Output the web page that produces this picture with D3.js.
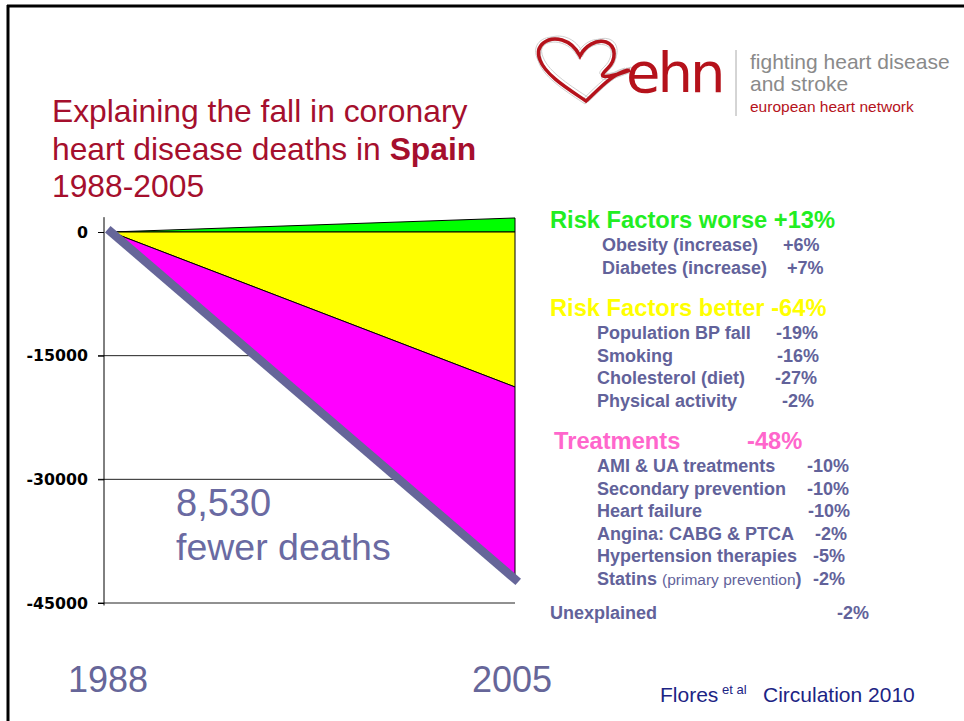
<!DOCTYPE html>
<html>
<head>
<meta charset="utf-8">
<script src="https://cdn.jsdelivr.net/npm/d3@7"></script>
<style>
 body { margin:0; background:#fff; }
 svg { display:block; font-family:"Liberation Sans", Arial, sans-serif; }
</style>
</head>
<body>
<script>

// chart data
var years         = [1988, 2005]
var riskWorse     = [0, 1700]
var riskBetter    = [0, -18800]
var treatmentsLow = [0, -42500]
var observed      = [0, -42100]
var yTicks        = [0, -15000, -30000, -45000]

// right hand panel
var headers = [
 {text: 'Risk Factors worse +13%', color: '#22ee22', x: 550, y: 228},
 {text: 'Risk Factors better -64%', color: '#ffff00', x: 550, y: 316},
 {text: 'Treatments', color: '#ff66cc', x: 554, y: 449},
 {text: '-48%', color: '#ff66cc', x: 747, y: 449}
]
var worseLabels  = ['Obesity (increase)', 'Diabetes (increase)']
var worseValues  = ['+6%', '+7%']
var betterLabels = ['Population BP fall', 'Smoking', 'Cholesterol (diet)', 'Physical activity']
var betterValues = ['-19%', '-16%', '-27%', '-2%']
var treatLabels  = ['AMI & UA treatments', 'Secondary prevention', 'Heart failure',
                    'Angina: CABG & PTCA', 'Hypertension therapies', 'Statins ']
var treatValues  = ['-10%', '-10%', '-10%', '-2%', '-5%', '-2%']

var W = 964, H = 721
var ink = '#62629a'
var fs  = 18

var svg = d3.select('body').append('svg').attr('width', W).attr('height', H)

// frame
svg.append('line').attr('x1', 8).attr('x2', 8).attr('y1', 5).attr('y2', H)
   .attr('stroke', '#000').attr('stroke-width', 3)
svg.append('line').attr('x1', 7).attr('x2', W).attr('y1', 6).attr('y2', 6)
   .attr('stroke', '#000').attr('stroke-width', 3)

// title
var title = svg.append('text').attr('x', 52).attr('y', 122)
   .attr('font-size', 31.8).attr('fill', '#a50f2d')
title.append('tspan').text('Explaining the fall in coronary')
title.append('tspan').attr('x', 52).attr('dy', 38).text('heart disease deaths in ')
title.append('tspan').attr('font-weight', 'bold').text('Spain')
title.append('tspan').attr('x', 52).attr('dy', 37).text('1988-2005')

// logo
var logo = svg.append('g')
var heart = 'M628,70 C612,74 600,88 586,101 C570,90 546,76 540,60 C534,45 548,36 562,40 ' +
            'C572,43 577,50 580,56 C585,46 596,39 606,42 C617,46 616,60 608,68 C603,73 598,78 610,76 C618,75 624,72 630,70'
;[[-3, -2], [2, 1], [-1, 3], [3, -3]].forEach(function(o) {
  logo.append('path').attr('d', heart).attr('transform', 'translate(' + o[0] + ',' + o[1] + ')')
      .attr('fill', 'none').attr('stroke', '#cfcfcf').attr('stroke-width', 1)
})
logo.append('path').attr('d', heart).attr('fill', 'none').attr('stroke', '#b5121b').attr('stroke-width', 3.5)
logo.append('text').attr('x', 626).attr('y', 92).attr('font-size', 56).attr('fill', '#b5121b')
    .attr('font-family', 'DejaVu Sans').attr('letter-spacing', -3).text('ehn')
logo.append('line').attr('x1', 736).attr('x2', 736).attr('y1', 50).attr('y2', 116)
    .attr('stroke', '#aaa').attr('stroke-width', 1)
logo.append('text').attr('x', 750).attr('y', 69).attr('font-size', 21).attr('fill', '#8a8a8a').text('fighting heart disease')
logo.append('text').attr('x', 750).attr('y', 91).attr('font-size', 21).attr('fill', '#8a8a8a').text('and stroke')
logo.append('text').attr('x', 750).attr('y', 112).attr('font-size', 15.5).attr('fill', '#b5121b').text('european heart network')

// scales
var x = d3.scaleLinear().domain([1988, 2005]).range([111, 515])
var y = d3.scaleLinear().domain([0, -45000]).range([232, 603])

// gridlines
svg.append('g').selectAll('.grid').data(yTicks.slice(1)).enter().append('line').attr('class', 'grid')
  .attr('x1', 98).attr('x2', x(2005)).attr('y1', function(d) { return y(d) }).attr('y2', function(d) { return y(d) })
  .attr('stroke', '#222').attr('stroke-width', 1)

// axis
var axis = d3.axisLeft(y).tickValues(yTicks).tickSize(6).tickPadding(10).tickFormat(function(d) { return String(d) })
var ag = svg.append('g').attr('transform', 'translate(104,0)').call(axis)
ag.select('.domain').remove()
ag.selectAll('.tick line').attr('stroke', '#000')
ag.selectAll('text').style('font-size', '15.8px').style('font-weight', 'bold').style('fill', '#000')
  .style('font-family', '"DejaVu Sans", Verdana, sans-serif')
ag.append('line').attr('x1', 0).attr('x2', 0).attr('y1', y(1800)).attr('y2', y(-45300))
  .attr('stroke', '#000').attr('stroke-width', 1)

// areas
function band(lo, hi) {
  return d3.area().x(function(d, i) { return x(years[i]) })
    .y0(function(d, i) { return y(lo[i]) }).y1(function(d, i) { return y(hi[i]) })(years)
}
svg.append('path').attr('d', band(riskWorse.map(function() { return 0 }), riskWorse))
   .attr('fill', '#00ff00').attr('stroke', '#000').attr('stroke-width', 1)
svg.append('path').attr('d', band(riskBetter, riskBetter.map(function() { return 0 })))
   .attr('fill', '#ffff00').attr('stroke', '#000').attr('stroke-width', 1)
svg.append('path').attr('d', band(treatmentsLow, riskBetter))
   .attr('fill', '#ff00ff').attr('stroke', '#000').attr('stroke-width', 1)

// observed fall
var line = d3.line().x(function(d, i) { return x(years[i]) }).y(function(d) { return y(d) })
svg.append('path').attr('d', line(observed)).attr('fill', 'none')
   .attr('stroke', '#666699').attr('stroke-width', 8.5).attr('stroke-linecap', 'square')

// annotation
svg.append('text').attr('x', 176).attr('y', 516).attr('font-size', 38).attr('fill', '#6a6aa2').text('8,530')
svg.append('text').attr('x', 176).attr('y', 560).attr('font-size', 37.5).attr('fill', '#6a6aa2').text('fewer deaths')

// years along bottom
svg.append('text').attr('x', 68).attr('y', 692).attr('font-size', 36).attr('fill', '#666699').text(years[0])
svg.append('text').attr('x', 472).attr('y', 692).attr('font-size', 36).attr('fill', '#666699').text(years[1])

// reference
var ref = svg.append('text').attr('x', 660).attr('y', 702).attr('font-size', 21).attr('fill', '#1c2484')
ref.append('tspan').text('Flores')
ref.append('tspan').attr('font-size', 13).attr('dy', -8).attr('x', 722).text('et al')
ref.append('tspan').attr('dy', 8).attr('x', 763).text('Circulation 2010')

// panel text
svg.selectAll('.hdr').data(headers).enter().append('text').attr('class', 'hdr')
  .attr('x', function(d) { return d.x }).attr('y', function(d) { return d.y })
  .attr('font-size', 23.7).attr('font-weight', 'bold').attr('fill', function(d) { return d.color })
  .text(function(d) { return d.text })

function items(labels, values, lx, vx, y0, dy) {
  return labels.map(function(l, i) {
    var t = svg.append('text').attr('x', lx).attr('y', y0 + i * dy).attr('font-size', fs)
       .attr('font-weight', 'bold').attr('fill', ink)
    t.append('tspan').text(l)
    svg.append('text').attr('x', vx[i]).attr('y', y0 + i * dy).attr('font-size', fs)
       .attr('font-weight', 'bold').attr('fill', ink).text(values[i])
    return t
  })
}
items(worseLabels, worseValues, 602, [783, 787], 251, 23)
items(betterLabels, betterValues, 597, [776, 777, 775, 782], 339, 22.5)
var tl = items(treatLabels, treatValues, 597, [807, 807, 808, 815, 813, 813], 472, 22.5)
// statins remark
var st = tl[tl.length - 1]
st.append('tspan').attr('font-size', 15.5).attr('font-weight', 'normal').text('(primary prevention')
st.append('tspan').text(')')

svg.append('text').attr('x', 550).attr('y', 619).attr('font-size', fs).attr('font-weight', 'bold').attr('fill', ink).text('Unexplained')
svg.append('text').attr('x', 837).attr('y', 619).attr('font-size', fs).attr('font-weight', 'bold').attr('fill', ink).text('-2%')

</script>
</body>
</html>
